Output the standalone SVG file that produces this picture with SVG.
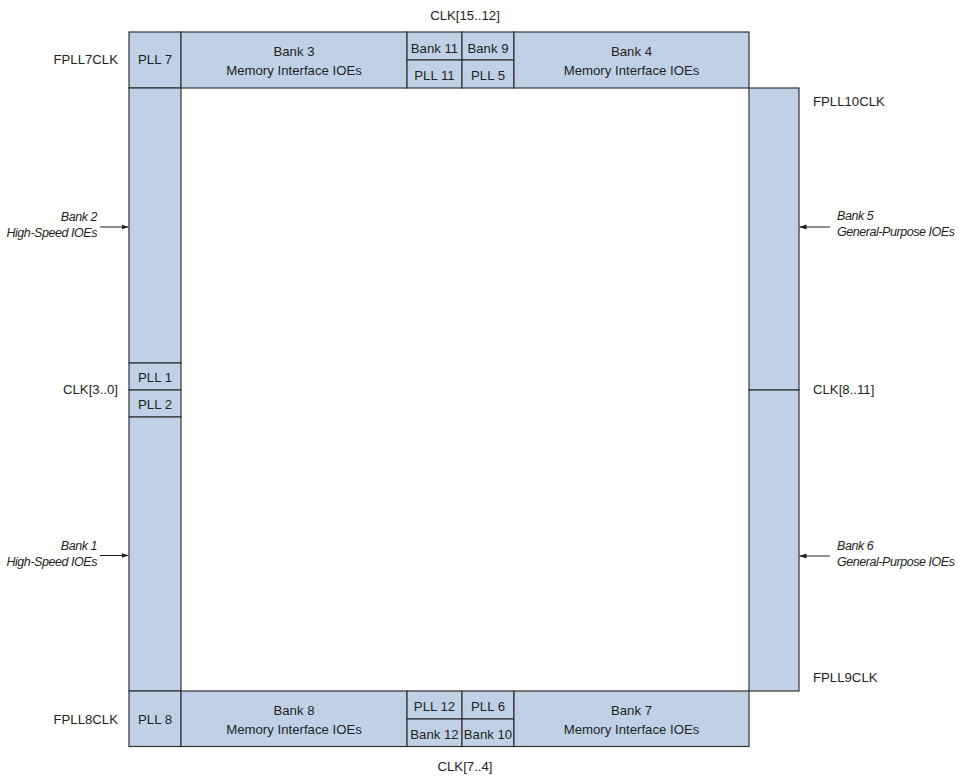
<svg xmlns="http://www.w3.org/2000/svg" width="959" height="776" viewBox="0 0 959 776">
<style>
.b{fill:#C0D1E6;stroke:#333;stroke-width:1.2}
.t{font-family:"Liberation Sans",Arial,sans-serif;font-size:13.2px;fill:#231F20;text-anchor:middle}
.l{font-family:"Liberation Sans",Arial,sans-serif;font-size:13.2px;fill:#231F20}
.i{font-family:"Liberation Sans",Arial,sans-serif;font-size:12.5px;font-style:italic;letter-spacing:-0.45px;fill:#231F20}
.c{stroke:#231F20;stroke-width:1;fill:none}
</style>
<defs>
<marker id="ah" markerWidth="7" markerHeight="6" refX="7" refY="3" orient="auto" markerUnits="userSpaceOnUse">
<path d="M0,0.5 L7,3 L0,5.5 Z" fill="#231F20"/>
</marker>
</defs>
<rect width="959" height="776" fill="#fff"/>
<g id="top">
<g id="pll7"><rect class="b" x="129" y="32" width="52" height="56"/><text class="t" x="155" y="64">PLL 7</text></g>
<g id="bank3"><rect class="b" x="181" y="32" width="226" height="56"/><text class="t" x="294" y="56">Bank 3</text><text class="t" x="294" y="74.5">Memory Interface IOEs</text></g>
<g id="bank11"><rect class="b" x="407" y="32" width="55" height="28"/><text class="t" x="434.5" y="52.5">Bank 11</text></g>
<g id="bank9"><rect class="b" x="462" y="32" width="52" height="28"/><text class="t" x="488" y="52.5">Bank 9</text></g>
<g id="pll11"><rect class="b" x="407" y="60" width="55" height="28"/><text class="t" x="434.5" y="79.5">PLL 11</text></g>
<g id="pll5"><rect class="b" x="462" y="60" width="52" height="28"/><text class="t" x="488" y="79.5">PLL 5</text></g>
<g id="bank4"><rect class="b" x="514" y="32" width="235" height="56"/><text class="t" x="631.5" y="56">Bank 4</text><text class="t" x="631.5" y="74.5">Memory Interface IOEs</text></g>
</g>
<g id="left">
<g id="bank2"><rect class="b" x="129" y="88" width="52" height="275"/></g>
<g id="pll1"><rect class="b" x="129" y="363" width="52" height="27"/><text class="t" x="155" y="381.5">PLL 1</text></g>
<g id="pll2"><rect class="b" x="129" y="390" width="52" height="27"/><text class="t" x="155" y="409">PLL 2</text></g>
<g id="bank1"><rect class="b" x="129" y="417" width="52" height="274"/></g>
</g>
<g id="right">
<g id="bank5"><rect class="b" x="749" y="88" width="50" height="302"/></g>
<g id="bank6"><rect class="b" x="749" y="390" width="50" height="301"/></g>
</g>
<g id="bottom">
<g id="pll8"><rect class="b" x="129" y="691" width="52" height="55.5"/><text class="t" x="155" y="723.5">PLL 8</text></g>
<g id="bank8"><rect class="b" x="181" y="691" width="226" height="55.5"/><text class="t" x="294" y="715">Bank 8</text><text class="t" x="294" y="733.5">Memory Interface IOEs</text></g>
<g id="pll12"><rect class="b" x="407" y="691" width="55" height="28"/><text class="t" x="434.5" y="711">PLL 12</text></g>
<g id="pll6"><rect class="b" x="462" y="691" width="52" height="28"/><text class="t" x="488" y="711">PLL 6</text></g>
<g id="bank12"><rect class="b" x="407" y="719" width="55" height="27.5"/><text class="t" x="434.5" y="738.5">Bank 12</text></g>
<g id="bank10"><rect class="b" x="462" y="719" width="52" height="27.5"/><text class="t" x="488" y="738.5">Bank 10</text></g>
<g id="bank7"><rect class="b" x="514" y="691" width="235" height="55.5"/><text class="t" x="631.5" y="715">Bank 7</text><text class="t" x="631.5" y="733.5">Memory Interface IOEs</text></g>
</g>
<g id="labels">
<text class="t" x="465" y="20">CLK[15..12]</text>
<text class="t" x="465" y="771">CLK[7..4]</text>
<text class="l" x="118" y="64" text-anchor="end">FPLL7CLK</text>
<text class="l" x="118" y="723.5" text-anchor="end">FPLL8CLK</text>
<text class="l" x="118" y="393.5" text-anchor="end">CLK[3..0]</text>
<text class="l" x="813" y="106">FPLL10CLK</text>
<text class="l" x="813" y="394">CLK[8..11]</text>
<text class="l" x="813" y="682">FPLL9CLK</text>
<text class="i" x="97" y="221" text-anchor="end">Bank 2</text>
<text class="i" x="97" y="237" text-anchor="end">High-Speed IOEs</text>
<text class="i" x="97" y="550" text-anchor="end">Bank 1</text>
<text class="i" x="97" y="566" text-anchor="end">High-Speed IOEs</text>
<text class="i" x="837" y="220">Bank 5</text>
<text class="i" x="837" y="236">General-Purpose IOEs</text>
<text class="i" x="837" y="550">Bank 6</text>
<text class="i" x="837" y="566">General-Purpose IOEs</text>
</g>
<g id="connectors">
<line class="c" x1="100" y1="227" x2="128.5" y2="227" marker-end="url(#ah)"/>
<line class="c" x1="100" y1="555.5" x2="128.5" y2="555.5" marker-end="url(#ah)"/>
<line class="c" x1="830" y1="227" x2="799.5" y2="227" marker-end="url(#ah)"/>
<line class="c" x1="830" y1="556" x2="799.5" y2="556" marker-end="url(#ah)"/>
</g>
</svg>
